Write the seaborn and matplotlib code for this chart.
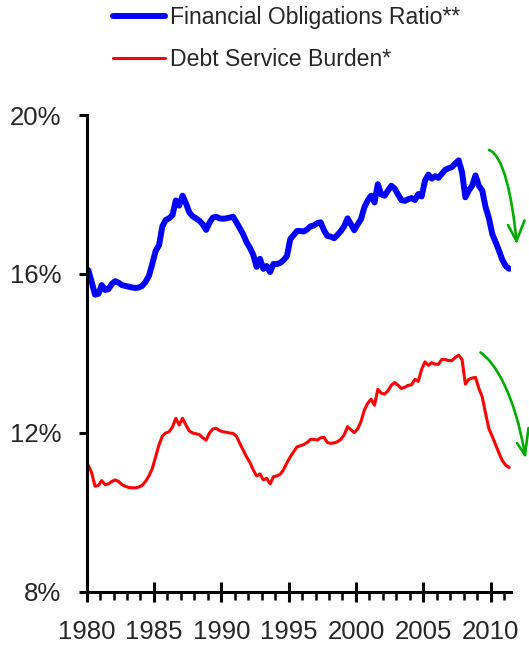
import numpy as np
import pandas as pd
import matplotlib
matplotlib.use("Agg")
import matplotlib.pyplot as plt
from matplotlib.path import Path
from matplotlib.patches import PathPatch
from matplotlib.ticker import MultipleLocator, FuncFormatter
from matplotlib.lines import Line2D
import seaborn as sns

# Quarterly values, 1980Q1 .. 2011Q2 (percent of disposable income)
fin_obligations = [
    16.10, 15.80, 15.48, 15.50,  # 1980
    15.72, 15.60, 15.62, 15.75,  # 1981
    15.82, 15.78, 15.72, 15.70,  # 1982
    15.68, 15.66, 15.65, 15.66,  # 1983
    15.70, 15.80, 15.95, 16.25,  # 1984
    16.58, 16.72, 17.20, 17.36,  # 1985
    17.40, 17.48, 17.85, 17.72,  # 1986
    17.97, 17.78, 17.55, 17.45,  # 1987
    17.40, 17.34, 17.25, 17.11,  # 1988
    17.29, 17.42, 17.44, 17.40,  # 1989
    17.39, 17.40, 17.42, 17.44,  # 1990
    17.30, 17.15, 17.00, 16.80,  # 1991
    16.66, 16.48, 16.18, 16.38,  # 1992
    16.13, 16.20, 16.05, 16.25,  # 1993
    16.25, 16.28, 16.35, 16.45,  # 1994
    16.88, 16.98, 17.08, 17.08,  # 1995
    17.07, 17.12, 17.20, 17.22,  # 1996
    17.28, 17.30, 17.10, 16.96,  # 1997
    16.94, 16.90, 16.98, 17.08,  # 1998
    17.20, 17.40, 17.25, 17.10,  # 1999
    17.25, 17.38, 17.68, 17.85,  # 2000
    17.97, 17.80, 18.26, 18.00,  # 2001
    17.97, 18.10, 18.22, 18.15,  # 2002
    18.00, 17.86, 17.84, 17.88,  # 2003
    17.91, 17.86, 18.01, 17.95,  # 2004
    18.35, 18.50, 18.40, 18.46,  # 2005
    18.42, 18.52, 18.62, 18.66,  # 2006
    18.69, 18.78, 18.86, 18.56,  # 2007
    17.93, 18.10, 18.22, 18.48,  # 2008
    18.22, 18.10, 17.68, 17.40,  # 2009
    17.00, 16.80, 16.58, 16.35,  # 2010
    16.20, 16.13,                # 2011
]

debt_service = [
    11.19, 11.00, 10.66, 10.68,  # 1980
    10.80, 10.70, 10.72, 10.78,  # 1981
    10.82, 10.78, 10.70, 10.66,  # 1982
    10.63, 10.62, 10.62, 10.64,  # 1983
    10.68, 10.78, 10.92, 11.10,  # 1984
    11.40, 11.70, 11.92, 12.00,  # 1985
    12.03, 12.15, 12.37, 12.20,  # 1986
    12.37, 12.20, 12.05, 12.00,  # 1987
    11.98, 11.96, 11.88, 11.82,  # 1988
    12.00, 12.10, 12.12, 12.06,  # 1989
    12.03, 12.02, 12.00, 11.99,  # 1990
    11.92, 11.74, 11.57, 11.40,  # 1991
    11.26, 11.07, 10.92, 10.97,  # 1992
    10.82, 10.86, 10.72, 10.90,  # 1993
    10.92, 10.96, 11.08, 11.25,  # 1994
    11.40, 11.53, 11.65, 11.68,  # 1995
    11.71, 11.76, 11.84, 11.84,  # 1996
    11.82, 11.88, 11.89, 11.76,  # 1997
    11.74, 11.75, 11.78, 11.84,  # 1998
    11.95, 12.16, 12.08, 12.01,  # 1999
    12.10, 12.29, 12.58, 12.75,  # 2000
    12.85, 12.70, 13.10, 13.00,  # 2001
    12.98, 13.06, 13.20, 13.27,  # 2002
    13.20, 13.12, 13.15, 13.20,  # 2003
    13.21, 13.35, 13.30, 13.60,  # 2004
    13.79, 13.70, 13.77, 13.73,  # 2005
    13.73, 13.85, 13.85, 13.82,  # 2006
    13.82, 13.90, 13.96, 13.85,  # 2007
    13.23, 13.35, 13.38, 13.40,  # 2008
    13.12, 12.91, 12.49, 12.10,  # 2009
    11.91, 11.70, 11.49, 11.30,  # 2010
    11.19, 11.13,                # 2011
]

# mid-quarter dates
quarters = 1980 + (np.arange(len(fin_obligations)) + 0.5) / 4

year_ticks = list(range(1980, 2011, 5))
pct_ticks = [8, 12, 16, 20]

labels = ["Financial Obligations Ratio**", "Debt Service Burden*"]

df = pd.DataFrame({
    "date": np.concatenate([quarters, quarters]),
    "value": fin_obligations + debt_service,
    "series": [labels[0]] * len(quarters) + [labels[1]] * len(quarters),
})

sns.set_style("white")
plt.rcParams["font.family"] = ["Liberation Sans", "DejaVu Sans"]

fig = plt.figure(figsize=(5.29, 6.45), dpi=100)
ax = fig.add_axes([0.1637, 0.0822, 0.802, 0.7395])

sns.lineplot(data=df[df.series == labels[0]], x="date", y="value",
             color="#0000FF", lw=4.3, ax=ax, label=labels[0])
sns.lineplot(data=df[df.series == labels[1]], x="date", y="value",
             color="#FF0000", lw=2.2, ax=ax, label=labels[1])

ax.set_xlim(1980, 2011.5)
ax.set_ylim(8, 20)
ax.set_xlabel("")
ax.set_ylabel("")

for s in ["top", "right"]:
    ax.spines[s].set_visible(False)
for s in ["left", "bottom"]:
    ax.spines[s].set_color("black")
    ax.spines[s].set_linewidth(2.2)

ax.set_xticks(year_ticks)
ax.xaxis.set_minor_locator(MultipleLocator(1))
ax.set_yticks(pct_ticks)
ax.yaxis.set_major_formatter(FuncFormatter(lambda v, p: f"{int(v)}%"))

ax.tick_params(axis="x", which="both", bottom=True, top=False)
ax.tick_params(axis="y", which="both", left=True, right=False)
ax.tick_params(axis="x", which="major", direction="inout", length=15,
               width=2.2, color="black", labelsize=18.5, pad=13)
ax.tick_params(axis="x", which="minor", direction="out", length=6,
               width=1.8, color="black")
ax.tick_params(axis="y", which="major", direction="out", length=6,
               width=2.2, color="black", labelsize=18.5, pad=12)

# legend above plot
leg = ax.legend(loc="upper left", bbox_to_anchor=(113 / 529, 1 - 6 / 645),
                bbox_transform=fig.transFigure, frameon=False,
                fontsize=16.6, handlelength=2.25, handletextpad=0.22,
                labelspacing=0.83, borderaxespad=0, borderpad=0)

# green hand-drawn arrows (figure pixel coords)
def px(x, y):
    return (x / 529, 1 - y / 645)

green = "#00AA00"
arrows = [
    ([(489, 150), (503, 155), (512, 195), (516.5, 241)],
     [(508, 225), (524.5, 220.5)]),
    ([(480.5, 352.5), (495, 362), (515, 395), (525, 455)],
     [(517, 443), (528.5, 428)]),
]
for curve, arms in arrows:
    path = Path([px(*p) for p in curve],
                [Path.MOVETO, Path.CURVE4, Path.CURVE4, Path.CURVE4])
    fig.patches.append(PathPatch(path, transform=fig.transFigure,
                                 fill=False, edgecolor=green, lw=1.9,
                                 capstyle="round"))
    tip = curve[-1]
    for a in arms:
        xs, ys = zip(px(*a), px(*tip))
        fig.lines.append(Line2D(xs, ys, transform=fig.transFigure,
                                color=green, lw=1.9,
                                solid_capstyle="round"))

fig.savefig("out.png", dpi=100)
